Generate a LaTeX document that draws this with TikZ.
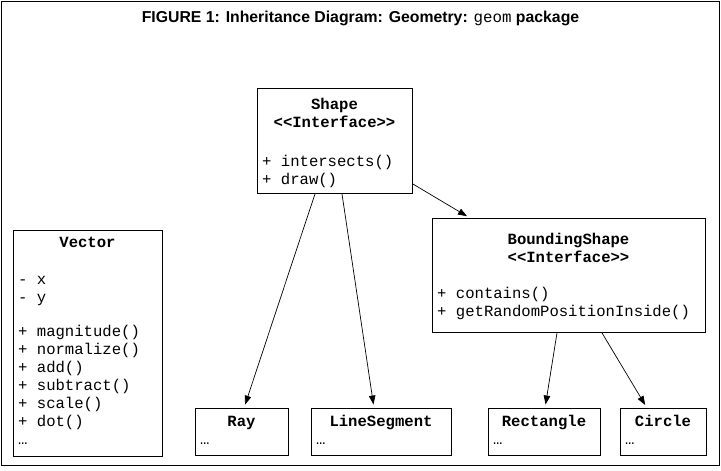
\documentclass[tikz,border=0pt]{standalone}
\usepackage{fontspec}
\setmainfont{Liberation Sans}
\newfontfamily\cour{Liberation Mono}
\usetikzlibrary{arrows.meta,calc}
\begin{document}
\begin{tikzpicture}[x=1pt,y=-1pt,
  box/.style={draw, line width=0.9pt, inner sep=0pt, anchor=north west},
  ttl/.style={font=\cour\bfseries\fontsize{15.6}{18}\selectfont, align=center, inner sep=0pt, anchor=base},
  mem/.style={font=\cour\fontsize{15.6}{18}\selectfont, align=left, inner sep=0pt, anchor=base west},
  arr/.style={-{Triangle[length=9pt,width=6.5pt]}, line width=0.7pt, shorten >=3.5pt}]
\useasboundingbox (0,0) rectangle (721,471);
\draw[line width=1pt] (1,1) rectangle (719.5,465.5);
\node[anchor=base, inner sep=0pt, font=\bfseries\fontsize{15.8}{18}\selectfont] (title) at (360.5,22)
  {FIGURE 1: Inheritance Diagram: Geometry: {\cour\mdseries geom} package};

% boxes
\node[box, minimum width=155pt, minimum height=105pt] (shape) at (257,88) {};
\node[box, minimum width=273pt, minimum height=114pt] (bshape) at (432,218) {};
\node[box, minimum width=149pt, minimum height=226pt] (vector) at (13,230) {};
\node[box, minimum width=93pt, minimum height=47pt] (ray) at (195,408) {};
\node[box, minimum width=140pt, minimum height=47pt] (lineseg) at (311,408) {};
\node[box, minimum width=112pt, minimum height=47pt] (rect) at (488,408) {};
\node[box, minimum width=86pt, minimum height=47pt] (circle) at (620,408) {};

% Shape (base anchor = baseline of last line)
\node[ttl] (shapeT) at (334.5,127) {Shape\\<{}<Interface>{}>};
\node[mem] (shapeM) at (262,184) {+ intersects()\\+ draw()};
% BoundingShape
\node[ttl] (bshapeT) at (568.5,262) {BoundingShape\\<{}<Interface>{}>};
\node[mem] (bshapeM) at (437,316) {+ contains()\\+ getRandomPositionInside()};
% Vector
\node[ttl] (vectorT) at (87.5,247) {Vector};
\node[mem] (vectorM) at (18,444) {- x\\- y\\[16pt]+ magnitude()\\+ normalize()\\+ add()\\+ subtract()\\+ scale()\\+ dot()\\…};
% leaves
\node[ttl] (rayT) at (241.5,426) {Ray};
\node[mem] (rayM) at (200,444) {…};
\node[ttl] (linesegT) at (381,426) {LineSegment};
\node[mem] (linesegM) at (316,444) {…};
\node[ttl] (rectT) at (544,426) {Rectangle};
\node[mem] (rectM) at (493,444) {…};
\node[ttl] (circleT) at (663,426) {Circle};
\node[mem] (circleM) at (625,444) {…};

% connectors
\draw[arr] ($(shape.north east)+(0,96)$) -- ($(bshape.north west)+(38,0)$);
\draw[arr] ($(shape.south west)+(58,0)$) -- ($(ray.north west)+(49,0)$);
\draw[arr] ($(shape.south west)+(85,0)$) -- ($(lineseg.north west)+(63,0)$);
\draw[arr] ($(bshape.south west)+(125,0)$) -- ($(rect.north west)+(57,0)$);
\draw[arr] ($(bshape.south west)+(170,0)$) -- ($(circle.north west)+(27,0)$);
\end{tikzpicture}
\end{document}
